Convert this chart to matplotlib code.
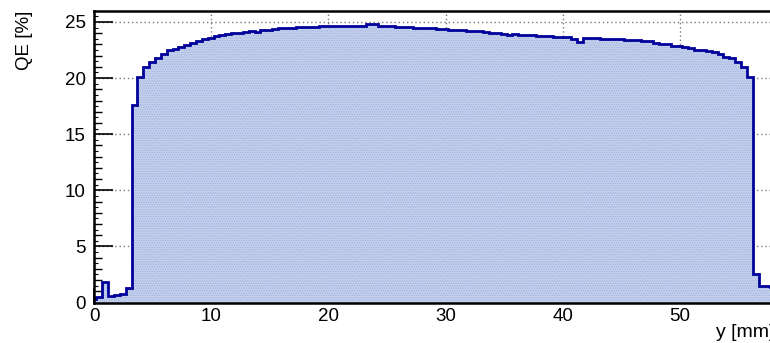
import numpy as np
import matplotlib.pyplot as plt
from matplotlib.ticker import MultipleLocator

plt.rcParams['font.family'] = ['Liberation Sans', 'DejaVu Sans']
plt.rcParams['hatch.linewidth'] = 0.6

# QE scan along y, 0.5 mm bins starting at -0.3 mm
bin_start = -0.3
bin_width = 0.5
qe = [
    0.27, 0.47, 1.84, 0.56, 0.65, 0.80, 1.25, 17.6,
    20.07, 20.96, 21.46, 21.80, 22.15, 22.50, 22.60, 22.80,
    22.95, 23.13, 23.30, 23.46, 23.60, 23.72, 23.84, 23.93,
    24.02, 24.05, 24.14, 24.23, 24.14, 24.29, 24.32, 24.38,
    24.47, 24.47, 24.47, 24.55, 24.55, 24.55, 24.55, 24.64,
    24.64, 24.64, 24.64, 24.64, 24.64, 24.64, 24.64, 24.79,
    24.79, 24.64, 24.64, 24.64, 24.53, 24.53, 24.53, 24.44,
    24.44, 24.44, 24.44, 24.38, 24.38, 24.30, 24.30, 24.28,
    24.23, 24.23, 24.23, 24.08, 23.99, 23.99, 23.93, 23.84,
    23.93, 23.84, 23.84, 23.84, 23.72, 23.72, 23.72, 23.63,
    23.63, 23.63, 23.48, 23.24, 23.54, 23.54, 23.54, 23.45,
    23.45, 23.45, 23.45, 23.37, 23.37, 23.37, 23.28, 23.28,
    23.16, 23.04, 23.04, 22.89, 22.89, 22.77, 22.65, 22.53,
    22.53, 22.41, 22.30, 22.12, 21.91, 21.76, 21.46, 20.96,
    20.07, 2.50, 1.45, 1.45, 1.40,
]
edges = bin_start + bin_width * np.arange(len(qe) + 1)

fig = plt.figure(figsize=(7.7, 3.43), dpi=100)
ax = fig.add_axes([0.1221, 0.118, 0.8828, 0.849])

# dotted fill, like ROOT's fill style 3001
ax.stairs(qe, edges, fill=True, facecolor='#c4d0ec', edgecolor='#9fb2de',
          hatch='.......', lw=0)
ax.stairs(qe, edges, color='#00009a', lw=2.0)

ax.set_xlim(0, 58)
ax.set_ylim(0, 25.95)

ax.xaxis.set_major_locator(MultipleLocator(10))
ax.xaxis.set_minor_locator(MultipleLocator(2))
ax.yaxis.set_major_locator(MultipleLocator(5))
ax.yaxis.set_minor_locator(MultipleLocator(1))

ax.tick_params(which='both', direction='in', colors='black', labelsize=13.5)
ax.tick_params(axis='x', which='major', length=11, width=1.2, pad=4)
ax.tick_params(axis='x', which='minor', length=6, width=1.0)
ax.tick_params(axis='y', which='major', length=14, width=1.2, pad=6)
ax.tick_params(axis='y', which='minor', length=6, width=1.0)

# extra half-unit ticks on y
sec = ax.secondary_yaxis('left')
sec.set_yticks(np.arange(0.5, 26, 1.0))
sec.tick_params(direction='in', length=3, width=0.8, labelleft=False)
sec.spines['left'].set_visible(False)

ax.set_axisbelow(True)
ax.grid(True, which='major', color='#7a7a7a', linestyle=(0, (1, 2)), lw=1.0)

for s in ax.spines.values():
    s.set_linewidth(1.8)

fig.text(25 / 770, 1 - 11 / 343, 'QE [%]', rotation=90, ha='center', va='top',
         fontsize=13.5)
fig.text(716 / 770, 2 / 343, 'y [mm]', ha='left', va='bottom', fontsize=14)

fig.savefig('out.png', dpi=100)
